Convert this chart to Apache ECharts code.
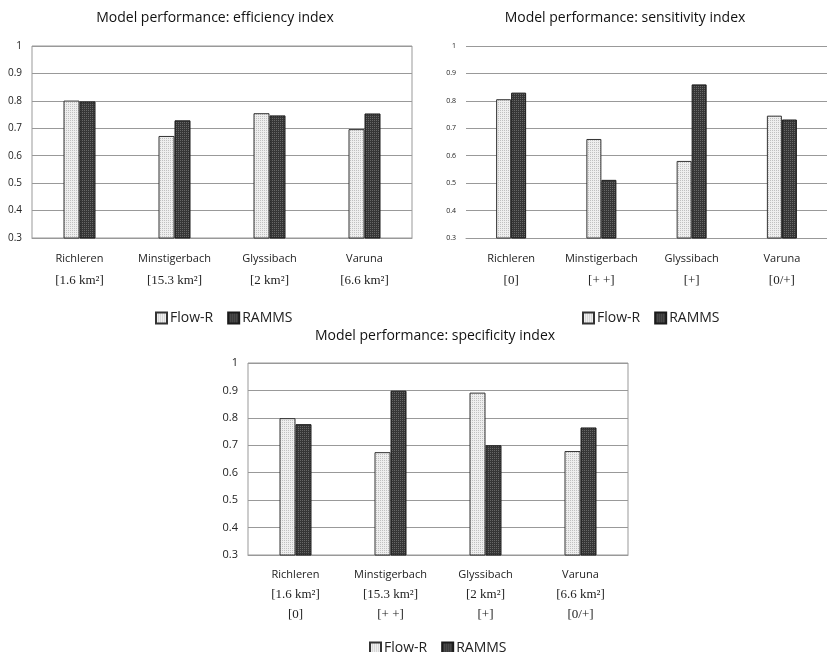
<!DOCTYPE html>
<html>
<head>
<meta charset="utf-8">
<script src="https://cdn.jsdelivr.net/npm/echarts@6/dist/echarts.min.js"></script>
<style>
  html, body { margin: 0; padding: 0; background: #fff; }
  #main { width: 827px; height: 652px; }
</style>
</head>
<body>
<div id="main"></div>
<script>
// catchments and their labels
var catchments = ['Richleren', 'Minstigerbach', 'Glyssibach', 'Varuna'];
var areas = ['[1.6 km²]', '[15.3 km²]', '[2 km²]', '[6.6 km²]'];
var classes = ['[0]', '[+ +]', '[+]', '[0/+]'];
var yTicks = [0.3, 1, 0.1]; // min, max, interval

// efficiency index
var effFlowR = [0.801, 0.672, 0.755, 0.697];
var effRamms = [0.798, 0.729, 0.747, 0.754];
// sensitivity index
var senFlowR = [0.806, 0.661, 0.581, 0.746];
var senRamms = [0.830, 0.512, 0.860, 0.732];
// specificity index
var speFlowR = [0.799, 0.675, 0.892, 0.679];
var speRamms = [0.777, 0.899, 0.700, 0.765];

var SANS = '"Open Sans", "Noto Sans", sans-serif';
var SERIF = '"Liberation Serif", "DejaVu Serif", serif';

// small checkered fill like the hatched excel bars
function makePattern(base, dot) {
    var cv = document.createElement('canvas');
    cv.width = 4; cv.height = 4;
    var ctx = cv.getContext('2d');
    ctx.fillStyle = base;
    ctx.fillRect(0, 0, 4, 4);
    ctx.fillStyle = dot;
    ctx.fillRect(0, 0, 1, 1);
    ctx.fillRect(2, 2, 1, 1);
    ctx.fillRect(2, 0, 1, 1);
    ctx.fillRect(0, 2, 1, 1);
    return { image: cv, repeat: 'repeat' };
}
var flowFill = makePattern('#eeeeee', '#c0c0c0');
var rammsFill = makePattern('#363636', '#676767');

function makeX(gridIndex, mode, lh) {
    return {
        type: 'category',
        gridIndex: gridIndex,
        data: catchments,
        axisTick: { show: false },
        axisLine: { show: true, lineStyle: { color: '#999' } },
        axisLabel: {
            interval: 0,
            margin: 10,
            formatter: function (v, i) {
                var s = '{a|' + v + '}';
                if (mode === 'area') s += '\n{b|' + areas[i] + '}';
                if (mode === 'class') s += '\n{b|' + classes[i] + '}';
                if (mode === 'both') s += '\n{b|' + areas[i] + '}\n{b|' + classes[i] + '}';
                return s;
            },
            rich: {
                a: { fontFamily: SANS, fontSize: 11, color: '#222', lineHeight: lh },
                b: { fontFamily: SERIF, fontSize: 13, color: '#222', lineHeight: lh }
            }
        }
    };
}

function makeY(gridIndex, fs) {
    return {
        type: 'value',
        gridIndex: gridIndex,
        min: yTicks[0],
        max: yTicks[1],
        interval: yTicks[2],
        axisLine: { show: false },
        axisTick: { show: false },
        axisLabel: {
            margin: 10,
            fontFamily: SANS,
            fontSize: fs,
            color: '#222',
            formatter: function (v) { return +v.toFixed(1) + ''; }
        },
        splitLine: { lineStyle: { color: '#999', width: 1 } }
    };
}

function makeBar(name, data, idx, fill, border, bw) {
    return {
        name: name,
        type: 'bar',
        xAxisIndex: idx,
        yAxisIndex: idx,
        data: data,
        barWidth: bw,
        barGap: '0%',
        itemStyle: { color: fill, borderColor: border, borderWidth: 1 }
    };
}

function makeLegend(x, y) {
    return {
        left: x,
        top: y,
        itemWidth: 11,
        itemHeight: 11,
        itemGap: 14,
        icon: 'rect',
        textStyle: { fontFamily: SANS, fontSize: 14, color: '#222', padding: [0, 0, 0, -2] },
        data: ['Flow-R', 'RAMMS']
    };
}

function makeTitle(text, x, y) {
    return {
        text: text,
        left: x,
        top: y,
        textAlign: 'center',
        textStyle: { fontFamily: SANS, fontSize: 14, fontWeight: 'normal', color: '#111' }
    };
}

var chart = echarts.init(document.getElementById('main'));

var option = {
    animation: false,
    backgroundColor: '#fff',
    title: [
        makeTitle('Model performance: efficiency index', 210, 6),
        makeTitle('Model performance: sensitivity index', 620, 6),
        makeTitle('Model performance: specificity index', 430, 324)
    ],
    legend: [
        makeLegend(150, 306),
        makeLegend(577, 306),
        makeLegend(364, 636)
    ],
    grid: [
        { left: 32, top: 46, width: 380, height: 192, show: true, borderColor: '#999', borderWidth: 1 },
        { left: 466, top: 46, width: 361, height: 192 },
        { left: 248, top: 363, width: 380, height: 192, show: true, borderColor: '#999', borderWidth: 1 }
    ],
    xAxis: [
        makeX(0, 'area', 22),
        makeX(1, 'class', 22),
        makeX(2, 'both', 20)
    ],
    yAxis: [
        makeY(0, 10),
        makeY(1, 7),
        makeY(2, 11)
    ],
    series: [
        makeBar('Flow-R', effFlowR, 0, flowFill, '#333', 16),
        makeBar('RAMMS', effRamms, 0, rammsFill, '#1a1a1a', 16),
        makeBar('Flow-R', senFlowR, 1, flowFill, '#333', 15),
        makeBar('RAMMS', senRamms, 1, rammsFill, '#1a1a1a', 15),
        makeBar('Flow-R', speFlowR, 2, flowFill, '#333', 16),
        makeBar('RAMMS', speRamms, 2, rammsFill, '#1a1a1a', 16)
    ]
};

chart.setOption(option);

window.addEventListener('resize', function () {
    chart.resize();
});
</script>
</body>
</html>
